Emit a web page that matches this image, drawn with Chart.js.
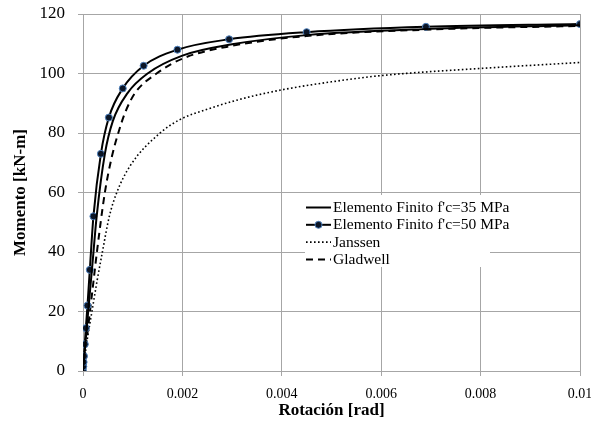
<!DOCTYPE html>
<html>
<head>
<meta charset="utf-8">
<script src="https://cdn.jsdelivr.net/npm/chart.js@4/dist/chart.umd.min.js"></script>
<style>
  html, body { margin: 0; padding: 0; background: #fff; overflow: hidden; }
  #wrap { width: 610px; height: 431px; }
</style>
</head>
<body>
<div id="wrap"><canvas id="chart" width="610" height="431"></canvas></div>
<script>
// Momento-rotación
const rot35 = [0, 0.00006, 0.000115, 0.00019, 0.000275, 0.00044, 0.0006, 0.0009, 0.0013, 0.002, 0.003, 0.0045, 0.007, 0.01];
const mom35 = [0, 11.5, 22, 36, 52, 73, 84, 93.5, 100, 106, 109.8, 112.9, 115, 116.2];

const rot50 = [0, 0.000006, 0.000012, 0.00002, 0.000036, 0.000057, 0.00009, 0.000137, 0.00021, 0.00036, 0.00052, 0.0008, 0.00122, 0.0019, 0.00294, 0.0045, 0.0069, 0.01];
const mom50 = [0, 1.5, 3, 5, 9, 14.4, 22, 34, 52, 73, 85.2, 95, 102.6, 108, 111.5, 113.9, 115.7, 116.6];

const rotJanssen = [0, 0.00008, 0.00018, 0.00028, 0.00039, 0.00053, 0.00068, 0.00095, 0.00155, 0.00195, 0.0025, 0.0032, 0.004, 0.005, 0.006, 0.008, 0.01];
const momJanssen = [0, 10, 20, 30, 40, 52, 60, 69, 80, 84.5, 88, 91.5, 94.5, 97.2, 99.3, 101.7, 103.7];

const rotGladwell = [0, 0.00007, 0.00014, 0.00021, 0.00028, 0.00044, 0.00058, 0.00071, 0.00085, 0.00105, 0.00148, 0.002, 0.003, 0.0045, 0.007, 0.01];
const momGladwell = [0, 10, 20, 30, 40, 60, 72, 80, 87, 93.5, 100, 105, 109.3, 112.6, 114.8, 116];

const seriesNames = ["Elemento Finito f'c=35 MPa", "Elemento Finito f'c=50 MPa", 'Janssen', 'Gladwell'];
const xTicks = [0, 0.002, 0.004, 0.006, 0.008, 0.01];
const yTicks = [0, 20, 40, 60, 80, 100, 120];

const serif = 'Liberation Serif';
const gridGrey = '#a6a6a6';

function pairs(xs, ys) {
    return xs.map((x, i) => ({ x: x, y: ys[i] }));
}

// legend sits inside the plot on a white box, like the Excel original
const boxLegend = {
    id: 'boxLegend',
    afterDatasetsDraw(chart) {
        const ctx = chart.ctx;
        ctx.save();
        ctx.fillStyle = '#fff';
        ctx.fillRect(305, 195, 185, 72);
        chart.data.datasets.forEach((ds, i) => {
            const y = 207.5 + i * 17.3;
            ctx.strokeStyle = ds.borderColor;
            ctx.lineWidth = ds.borderWidth;
            ctx.setLineDash(ds.borderDash || []);
            ctx.beginPath();
            ctx.moveTo(306, y);
            ctx.lineTo(331, y);
            ctx.stroke();
            ctx.setLineDash([]);
            if (ds.pointRadius > 0) {
                ctx.beginPath();
                ctx.arc(318.5, y, ds.pointRadius, 0, Math.PI * 2);
                ctx.fillStyle = ds.pointBackgroundColor;
                ctx.fill();
                ctx.lineWidth = ds.pointBorderWidth;
                ctx.strokeStyle = ds.pointBorderColor;
                ctx.stroke();
            }
            ctx.fillStyle = '#000';
            ctx.font = '15.5px "' + serif + '"';
            ctx.textBaseline = 'middle';
            ctx.textAlign = 'left';
            ctx.fillText(ds.label, 333, y + 0.5);
        });
        ctx.restore();
    }
};

const common = {
    fill: false,
    cubicInterpolationMode: 'monotone',
    pointRadius: 0,
    pointHoverRadius: 0
};

new Chart(document.getElementById('chart'), {
    type: 'line',
    data: {
        datasets: [
            Object.assign({}, common, {
                label: seriesNames[0],
                data: pairs(rot35, mom35),
                borderColor: '#000',
                borderWidth: 2
            }),
            Object.assign({}, common, {
                label: seriesNames[1],
                data: pairs(rot50, mom50),
                borderColor: '#000',
                borderWidth: 2,
                pointRadius: 3.5,
                pointBackgroundColor: '#0b1526',
                pointBorderColor: '#4f81bd',
                pointBorderWidth: 1
            }),
            Object.assign({}, common, {
                label: seriesNames[2],
                data: pairs(rotJanssen, momJanssen),
                borderColor: '#000',
                borderWidth: 1.6,
                borderDash: [1.6, 2.4]
            }),
            Object.assign({}, common, {
                label: seriesNames[3],
                data: pairs(rotGladwell, momGladwell),
                borderColor: '#000',
                borderWidth: 2,
                borderDash: [7, 5]
            })
        ]
    },
    options: {
        responsive: false,
        animation: false,
        layout: { padding: { top: 14, right: 30, bottom: 0, left: 0 } },
        plugins: {
            legend: { display: false },
            tooltip: { enabled: false }
        },
        scales: {
            x: {
                type: 'linear',
                min: 0,
                max: 0.01,
                afterFit(scale) { scale.height = 60; },
                afterBuildTicks(scale) { scale.ticks = xTicks.map(v => ({ value: v })); },
                grid: { color: gridGrey, tickColor: gridGrey, tickLength: 5 },
                border: { color: gridGrey },
                ticks: {
                    color: '#000',
                    padding: 10,
                    maxRotation: 0,
                    font: { family: serif, size: 14 },
                    callback: v => String(Number(v.toFixed(4)))
                },
                title: {
                    display: true,
                    text: 'Rotación [rad]',
                    color: '#000',
                    font: { family: serif, size: 17, weight: 'bold' },
                    padding: { top: 0, bottom: 10 }
                }
            },
            y: {
                min: 0,
                max: 120,
                afterFit(scale) {
                    scale.width = 83;
                    scale.paddingTop = 0;
                    scale.paddingBottom = 0;
                },
                afterBuildTicks(scale) { scale.ticks = yTicks.map(v => ({ value: v })); },
                grid: { color: gridGrey, tickColor: gridGrey, tickLength: 5 },
                border: { color: gridGrey },
                ticks: {
                    color: '#000',
                    padding: 13,
                    font: { family: serif, size: 17 }
                },
                title: {
                    display: true,
                    text: 'Momento [kN-m]',
                    color: '#000',
                    font: { family: serif, size: 17, weight: 'bold' },
                    padding: { top: 10, bottom: 0 }
                }
            }
        }
    },
    plugins: [boxLegend]
});
</script>
</body>
</html>
